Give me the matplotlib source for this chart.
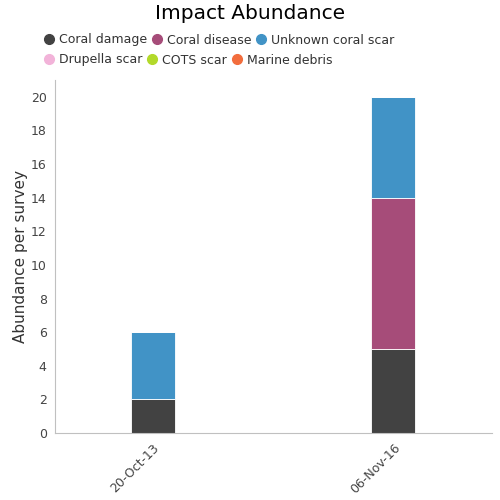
import numpy as np
import matplotlib.pyplot as plt
from matplotlib.lines import Line2D

dates = ['20-Oct-13', '06-Nov-16']
coral_damage = [2, 5]
coral_disease = [0, 9]
unknown_scar = [4, 6]
drupella_scar = [0, 0]
cots_scar = [0, 0]
marine_debris = [0, 0]

series = [
    ('Coral damage', coral_damage, '#424242'),
    ('Coral disease', coral_disease, '#a64c79'),
    ('Unknown coral scar', unknown_scar, '#4193c6'),
    ('Drupella scar', drupella_scar, '#f2b3d9'),
    ('COTS scar', cots_scar, '#b2d92a'),
    ('Marine debris', marine_debris, '#f26d3d'),
]

fig = plt.figure(figsize=(5, 5), dpi=100)
ax = fig.add_axes([0.11, 0.134, 0.874, 0.706])

x = np.arange(len(dates))
bottom = np.zeros(len(dates))
for name, vals, col in series:
    vals = np.array(vals, dtype=float)
    ax.bar(x, vals, 0.183, bottom=bottom, color=col, edgecolor='white', linewidth=0.6)
    bottom += vals

ax.set_xlim(-0.407, 1.41)
ax.set_ylim(0, 21)
ax.set_yticks(range(0, 21, 2))
ax.set_xticks(x)
ax.set_xticklabels(dates, rotation=45, ha='right', rotation_mode='anchor')
ax.tick_params(axis='both', length=0, labelsize=9, colors='#444444', pad=6)
for s in ['top', 'right']:
    ax.spines[s].set_visible(False)
for s in ['left', 'bottom']:
    ax.spines[s].set_color('#c0c0c0')
ax.set_ylabel('Abundance per survey', fontsize=11, color='#333333', labelpad=2)

fig.text(0.5, 0.973, 'Impact Abundance', ha='center', va='center', fontsize=14.5, color='#000000')

handles = [Line2D([0], [0], marker='o', linestyle='', markersize=7, color=c) for _, _, c in series]
labels = [n for n, _, _ in series]
legend_kw = dict(loc='center left', ncol=3, frameon=False, fontsize=9,
                 handletextpad=0.3, columnspacing=0.3, handlelength=1.0, borderaxespad=0)
leg1 = fig.legend(handles[:3], labels[:3], bbox_to_anchor=(0.075, 0.92), **legend_kw)
leg2 = fig.legend(handles[3:], labels[3:], bbox_to_anchor=(0.075, 0.88), **legend_kw)
for leg in (leg1, leg2):
    for t in leg.get_texts():
        t.set_color('#333333')

fig.savefig('out.png', dpi=100)
